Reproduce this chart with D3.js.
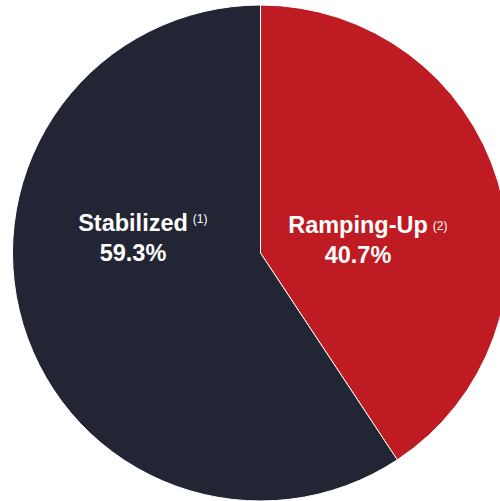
<!DOCTYPE html>
<html>
<head>
<meta charset="utf-8">
<script src="https://cdn.jsdelivr.net/npm/d3@7"></script>
<style>
  html, body { margin: 0; padding: 0; background: #fff; }
  svg { display: block; }
</style>
</head>
<body>
<svg id="chart" width="500" height="501"></svg>
<script>
// Portfolio split by stage
const categories = ["Ramping-Up", "Stabilized"];
const values = [40.7, 59.3];
const notes = ["(2)", "(1)"];
const colors = ["#be1b22", "#222533"];

const svg = d3.select("#chart");
const cx = 260.5, cy = 253, radius = 248;

const pie = d3.pie().sort(null).value(d => d.value);
const arc = d3.arc().innerRadius(0).outerRadius(radius);

const data = categories.map((c, i) => ({ name: c, value: values[i], note: notes[i], color: colors[i] }));
const arcs = pie(data);

const g = svg.append("g").attr("transform", `translate(${cx},${cy})`);

g.selectAll("path")
  .data(arcs)
  .join("path")
  .attr("d", arc)
  .attr("fill", d => d.data.color)
  .attr("stroke", "#ffffff")
  .attr("stroke-width", 1);

// Label placement relative to the pie centre
const labelPos = [
  { x: 97.5, y: -20, noteDx: 5, noteDy: -3 },
  { x: -127.5, y: -22, noteDx: 5, noteDy: -8 }
];

const font = "'Liberation Sans', Arial, sans-serif";
const labels = g.selectAll("g.label")
  .data(arcs)
  .join("g")
  .attr("class", "label")
  .attr("transform", (d, i) => `translate(${labelPos[i].x},${labelPos[i].y})`);

labels.append("text")
  .attr("text-anchor", "middle")
  .attr("fill", "#ffffff")
  .attr("font-family", font)
  .attr("font-weight", "bold")
  .attr("font-size", "23.5px")
  .text(d => d.data.name)
  .each(function(d, i) {
    const w = this.getComputedTextLength();
    d3.select(this.parentNode).append("text")
      .attr("x", w / 2 + labelPos[i].noteDx)
      .attr("y", labelPos[i].noteDy)
      .attr("fill", "#ffffff")
      .attr("font-family", font)
      .attr("font-size", "12px")
      .text(d.data.note);
  });

labels.append("text")
  .attr("text-anchor", "middle")
  .attr("y", 29.5)
  .attr("fill", "#ffffff")
  .attr("font-family", font)
  .attr("font-weight", "bold")
  .attr("font-size", "23.5px")
  .text(d => d3.format(".1f")(d.data.value) + "%");
</script>
</body>
</html>
